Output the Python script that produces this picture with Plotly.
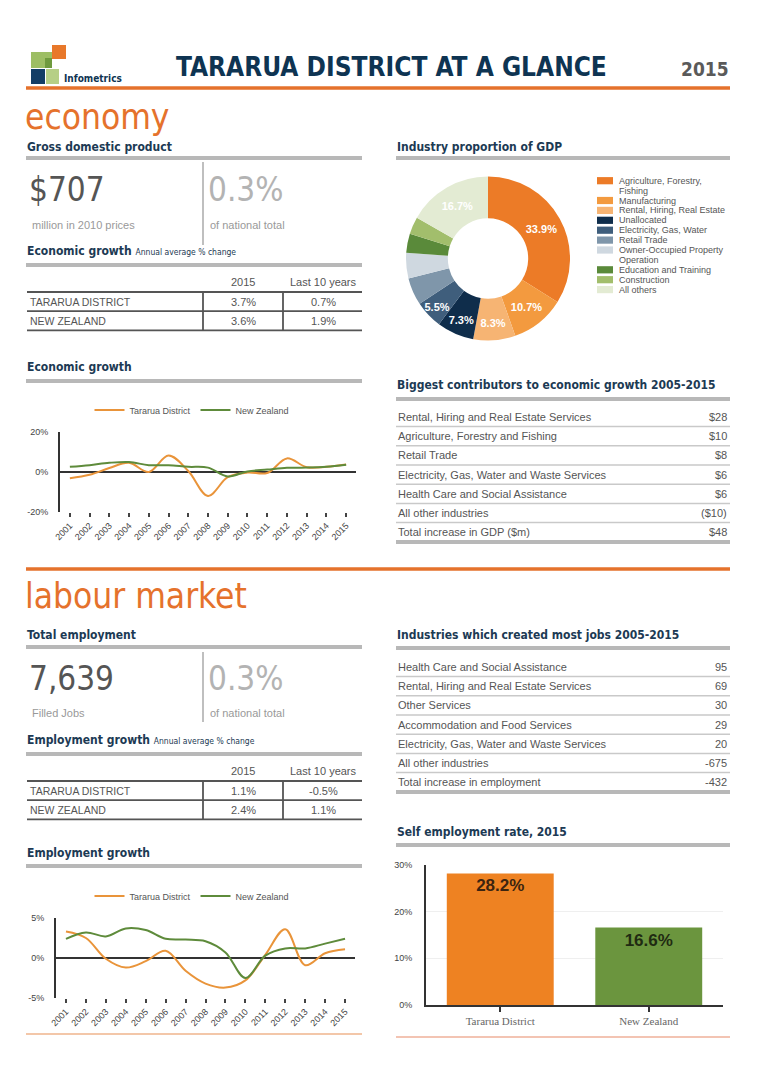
import plotly.graph_objects as go

W, H = 764, 1076
OFF = 8  # page body margin in which the figure is placed


def X(px):
    return (px - OFF) / W


def Y(py):
    return 1 - (py - OFF) / H


# ------------------------------------------------------------------ data
years = [2001, 2002, 2003, 2004, 2005, 2006, 2007, 2008, 2009, 2010, 2011, 2012, 2013, 2014, 2015]
econ_tararua = [-3.1, -1.4, 2.0, 4.6, 0.0, 8.2, 0.5, -12.0, -2.6, -0.3, -0.5, 6.8, 2.4, 2.6, 3.7]
econ_nz = [2.6, 3.4, 4.6, 5.0, 3.4, 3.4, 2.6, 2.2, -2.2, 0.3, 1.2, 2.1, 2.2, 2.6, 3.6]
emp_tararua = [3.3, 2.5, -0.1, -1.2, -0.4, 0.9, -1.6, -3.2, -3.7, -2.8, 0.4, 3.6, -0.9, 0.6, 1.1]
emp_nz = [2.4, 3.2, 2.7, 3.7, 3.5, 2.4, 2.3, 2.1, 0.7, -2.5, 0.3, 1.2, 1.2, 1.8, 2.4]
series_names = ["Tararua District", "New Zealand"]

econ_ticks = [-20, 0, 20]
econ_ticktext = ["-20%", "0%", "20%"]
emp_ticks = [-5, 0, 5]
emp_ticktext = ["-5%", "0%", "5%"]

pie_labels = ["Agriculture, Forestry, Fishing", "Manufacturing", "Rental, Hiring, Real Estate",
              "Unallocated", "Electricity, Gas, Water", "Retail Trade",
              "Owner-Occupied Property Operation", "Education and Training", "Construction", "All others"]
pie_legend_lines = ["Agriculture, Forestry,\nFishing", "Manufacturing", "Rental, Hiring, Real Estate",
                    "Unallocated", "Electricity, Gas, Water", "Retail Trade",
                    "Owner-Occupied Property\nOperation", "Education and Training", "Construction", "All others"]
pie_values = [33.9, 10.7, 8.3, 7.3, 5.5, 5.4, 5.0, 3.8, 3.4, 16.7]

self_emp_labels = ["Tararua District", "New Zealand"]
self_emp_values = [28.2, 16.6]
self_ticks = [0, 10, 20, 30]
self_ticktext = ["0%", "10%", "20%", "30%"]

gdp_value, gdp_share = "$707", "0.3%"
emp_value, emp_share = "7,639", "0.3%"

table_cols = ["2015", "Last 10 years"]
table_rows = ["TARARUA DISTRICT", "NEW ZEALAND"]
econ_2015 = ["3.7%", "3.6%"]
econ_10yr = ["0.7%", "1.9%"]
emp_2015 = ["1.1%", "2.4%"]
emp_10yr = ["-0.5%", "1.1%"]

contrib_labels = ["Rental, Hiring and Real Estate Services", "Agriculture, Forestry and Fishing", "Retail Trade",
                  "Electricity, Gas, Water and Waste Services", "Health Care and Social Assistance",
                  "All other industries", "Total increase in GDP ($m)"]
contrib_values = ["$28", "$10", "$8", "$6", "$6", "($10)", "$48"]

jobs_labels = ["Health Care and Social Assistance", "Rental, Hiring and Real Estate Services", "Other Services",
               "Accommodation and Food Services", "Electricity, Gas, Water and Waste Services",
               "All other industries", "Total increase in employment"]
jobs_values = ["95", "69", "30", "29", "20", "-675", "-432"]

# ------------------------------------------------------------------ styles
NARROW = "DejaVu Sans Condensed, Liberation Sans Narrow, Arial Narrow, sans-serif"
BODY = "Liberation Sans, Arial, sans-serif"
SERIF = "Liberation Serif, Times New Roman, serif"
NAVY = "#0E3452"
HEAD = "#1C3A54"
ORANGE = "#E5722C"
GREYBAR = "#B8B8B8"
TXT = "#555555"
LINE_OR = "#E9943A"
LINE_GR = "#5E8B3B"
pie_colors = ["#EC7B27", "#F39A3F", "#F6B473", "#0F2D4B", "#3F5E7C", "#7F96AA",
              "#CFD8E0", "#5A8A3A", "#A2BE6C", "#E3EBD3"]
bar_colors = ["#EE8222", "#6B953E"]
bar_text_colors = ["#3B2410", "#1F2B12"]
HS = 12  # heading size
SUB = "<span style='font-size:8.5px;font-weight:normal'>Annual average % change</span>"

shapes = []
anns = []


def hline(y, x0, x1, color=GREYBAR, width=4):
    shapes.append(dict(type="line", xref="paper", yref="paper", x0=X(x0), x1=X(x1), y0=Y(y), y1=Y(y),
                       line=dict(color=color, width=width)))


def vline(x, y0, y1, color="#444", width=1.5):
    shapes.append(dict(type="line", xref="paper", yref="paper", x0=X(x), x1=X(x), y0=Y(y0), y1=Y(y1),
                       line=dict(color=color, width=width)))


def rect(x0, y0, x1, y1, color):
    shapes.append(dict(type="rect", xref="paper", yref="paper", x0=X(x0), x1=X(x1), y0=Y(y1), y1=Y(y0),
                       fillcolor=color, line=dict(width=0)))


def text(s, x, y, size, color=TXT, family=BODY, xanchor="left", bold=False):
    anns.append(dict(text=s, x=X(x), y=Y(y), xref="paper", yref="paper", xanchor=xanchor, yanchor="middle",
                     showarrow=False, borderpad=0,
                     font=dict(size=size, color=color, family=family, weight="bold" if bold else "normal")))


# ------------------------------------------------------------------ header
rect(52, 45, 66, 59, "#E8782A")
rect(31, 52, 52, 68, "#9DBE64")
rect(45, 58, 52, 68, "#6F9A3E")
rect(31, 69, 45, 84, "#133E66")
rect(46, 69, 59, 84, "#B6CF86")
text("Infometrics", 63, 78, 10, NAVY, NARROW, bold=True)
text("TARARUA DISTRICT AT A GLANCE", 391, 67, 26, NAVY, NARROW, xanchor="center", bold=True)
text("2015", 730, 69, 19, "#5A5A5A", NARROW, xanchor="right", bold=True)
hline(88, 26, 730, ORANGE, 3.5)

# ------------------------------------------------------------------ economy
text("economy", 24, 117, 35, ORANGE, NARROW)
text("Gross domestic product", 26, 147, HS, HEAD, NARROW, bold=True)
hline(158, 26, 362)
text("Industry proportion of GDP", 396, 147, HS, HEAD, NARROW, bold=True)
hline(158, 396, 730)

text(gdp_value, 28, 190, 33, "#555555", NARROW)
text(gdp_share, 207, 190, 33, "#B3B3B3", NARROW)
vline(203, 162, 245, "#AAAAAA", 1.5)
text("million in 2010 prices", 31, 225, 11, "#999999")
text("of national total", 209, 225, 11, "#999999")

text("Economic growth " + SUB, 26, 251, HS, HEAD, NARROW, bold=True)
hline(265, 26, 362)


def small_table(y_head, y_line0, step, c2015, c10):
    text(table_cols[0], 243, y_head, 11, TXT, xanchor="center")
    text(table_cols[1], 323, y_head, 11, TXT, xanchor="center")
    for i in range(3):
        hline(y_line0 + i * step, 27, 362, "#555555", 1.8)
    vline(203, y_line0, y_line0 + 2 * step, "#555555", 1.8)
    vline(283, y_line0, y_line0 + 2 * step, "#555555", 1.8)
    for i, r in enumerate(table_rows):
        yy = y_line0 + step * (i + 0.5)
        text(r, 29, yy, 10.5, TXT)
        text(c2015[i], 243, yy, 11, TXT, xanchor="center")
        text(c10[i], 323, yy, 11, TXT, xanchor="center")


small_table(282, 292, 19.2, econ_2015, econ_10yr)

text("Economic growth", 26, 367, HS, HEAD, NARROW, bold=True)
hline(381, 26, 362)

text("Biggest contributors to economic growth 2005-2015", 396, 385, HS, HEAD, NARROW, bold=True)
hline(399, 396, 730)


def right_table(y0, labels, values, y_bottom):
    step = 19.2
    for i, (lab, val) in enumerate(zip(labels, values)):
        yy = y0 + i * step
        text(lab, 397, yy, 11, TXT)
        text(val, 728, yy, 11, TXT, xanchor="right")
        if i < len(labels) - 1:
            hline(yy + step / 2, 396, 730, "#C9C9C9", 1.5)
    hline(y_bottom, 396, 730)


right_table(417, contrib_labels, contrib_values, 542)

# pie legend (custom, from label & colour lists)
leg_y = 180.7
for lab, col in zip(pie_legend_lines, pie_colors):
    lines = lab.split("\n")
    rect(597, leg_y - 3.6, 613, leg_y + 3.6, col)
    for k, ln in enumerate(lines):
        text(ln, 618, leg_y + k * 9.9, 9, "#555555")
    leg_y += 9.9 * len(lines)

# ------------------------------------------------------------------ labour market
hline(569, 26, 730, ORANGE, 3.5)
text("labour market", 24, 596, 35, ORANGE, NARROW)
text("Total employment", 26, 635, HS, HEAD, NARROW, bold=True)
hline(647, 26, 362)
text("Industries which created most jobs 2005-2015", 396, 635, HS, HEAD, NARROW, bold=True)
hline(648, 396, 730)

text(emp_value, 28, 678, 33, "#555555", NARROW)
text(emp_share, 207, 678, 33, "#B3B3B3", NARROW)
vline(203, 652, 722, "#AAAAAA", 1.5)
text("Filled Jobs", 31, 713, 11, "#999999")
text("of national total", 209, 713, 11, "#999999")

text("Employment growth " + SUB, 26, 740, HS, HEAD, NARROW, bold=True)
hline(754, 26, 362)
small_table(771, 781, 19.2, emp_2015, emp_10yr)

right_table(667, jobs_labels, jobs_values, 792)

text("Self employment rate, 2015", 396, 832, HS, HEAD, NARROW, bold=True)
hline(845, 396, 730)
text("Employment growth", 26, 853, HS, HEAD, NARROW, bold=True)
hline(866, 26, 362)

hline(1034, 26, 362, "#EFB48C", 1.5)
hline(1037, 396, 730, "#EFB09A", 1.5)

# ------------------------------------------------------------------ traces
fig = go.Figure()

pie_text = [f"{v}%" if (v >= 5.5 or lab == "All others") else "" for v, lab in zip(pie_values, pie_labels)]
fig.add_trace(go.Pie(
    labels=pie_labels, values=pie_values, text=pie_text, textinfo="text",
    textposition="inside", insidetextorientation="horizontal",
    textfont=dict(size=11, color="white", family=BODY, weight="bold"),
    marker=dict(colors=pie_colors, line=dict(width=0)),
    hole=0.49, sort=False, direction="clockwise", rotation=0,
    domain=dict(x=[X(406), X(570)], y=[Y(341), Y(176)]), showlegend=False))

for ys, col, name in [(econ_tararua, LINE_OR, series_names[0]), (econ_nz, LINE_GR, series_names[1])]:
    fig.add_trace(go.Scatter(x=years, y=ys, mode="lines", name=name, line=dict(color=col, width=2, shape="spline"),
                             xaxis="x", yaxis="y", legend="legend"))
for ys, col, name in [(emp_tararua, LINE_OR, series_names[0]), (emp_nz, LINE_GR, series_names[1])]:
    fig.add_trace(go.Scatter(x=years, y=ys, mode="lines", name=name, line=dict(color=col, width=2, shape="spline"),
                             xaxis="x2", yaxis="y2", legend="legend2"))

fig.add_trace(go.Bar(
    x=self_emp_labels, y=self_emp_values, text=[f"{v}%" for v in self_emp_values],
    textposition="inside", insidetextanchor="end", textangle=0,
    textfont=dict(size=17, color=bar_text_colors, family=BODY, weight="bold"),
    marker=dict(color=bar_colors, line=dict(width=0)), xaxis="x3", yaxis="y3", showlegend=False))

tickfont = dict(size=9, color="#444444", family=BODY)


def line_xaxis(dom, anchor):
    return dict(domain=dom, anchor=anchor, range=[2000.5, 2015.5], tickvals=years, tickangle=-45,
                ticks="outside", ticklen=4, tickwidth=1.5, tickcolor="#444444", showgrid=False,
                showline=False, zeroline=False, tickfont=tickfont, fixedrange=True, automargin=False)


def line_yaxis(dom, anchor, rng, tv, tt):
    return dict(domain=dom, anchor=anchor, range=rng, tickvals=tv, ticktext=tt, showline=True,
                linecolor="#333333", linewidth=2, gridcolor="#EFEFEF", zeroline=True, zerolinecolor="#333333",
                zerolinewidth=1.5, ticks="", ticklabelstandoff=8, tickfont=tickfont, fixedrange=True,
                automargin=False)


legend_common = dict(orientation="h", xanchor="center", yanchor="middle", font=dict(size=9, color="#555555",
                     family=BODY), bgcolor="rgba(0,0,0,0)", itemwidth=30, tracegroupgap=0)

fig.update_layout(
    width=W, height=H, autosize=False, margin=dict(l=0, r=0, t=0, b=0, pad=0, autoexpand=False),
    paper_bgcolor="white", plot_bgcolor="white",
    shapes=shapes, annotations=anns, uniformtext=dict(minsize=11, mode="show"),
    xaxis=line_xaxis([X(60), X(356)], "y"),
    yaxis=line_yaxis([Y(512), Y(432)], "x", [-20, 20], econ_ticks, econ_ticktext),
    xaxis2=line_xaxis([X(56), X(355)], "y2"),
    yaxis2=line_yaxis([Y(998), Y(918)], "x2", [-5, 5], emp_ticks, emp_ticktext),
    xaxis3=dict(domain=[X(426), X(723)], anchor="y3", showline=True, linecolor="#333333", linewidth=2,
                ticks="outside", ticklen=5, tickcolor="#333333", tickwidth=1.5,
                tickfont=dict(size=11, color="#666666", family=SERIF), fixedrange=True, automargin=False),
    yaxis3=dict(domain=[Y(1005), Y(865)], anchor="x3", range=[0, 30], tickvals=self_ticks, ticktext=self_ticktext,
                showline=True, linecolor="#333333", linewidth=2, gridcolor="#EFEFEF", zeroline=False,
                ticklabelstandoff=10, tickfont=tickfont, fixedrange=True, automargin=False),
    bargap=0.28,
    legend=dict(x=X(192), y=Y(410), **legend_common),
    legend2=dict(x=X(192), y=Y(896), **legend_common),
    showlegend=True,
)

fig.write_html("out.html")
